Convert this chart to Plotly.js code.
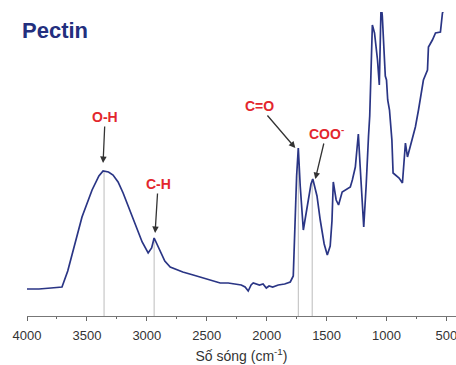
<!DOCTYPE html>
<html>
<head>
<meta charset="utf-8">
<script src="https://cdn.plot.ly/plotly-3.0.1.min.js"></script>
<style>html,body{margin:0;padding:0;background:#fff;}#chart{width:456px;height:365px;}</style>
</head>
<body>
<div id="chart"></div>
<script>
// Wavenumber (cm^-1) and absorbance-like signal (arbitrary units)
var wavenumber = [4000, 3900, 3800, 3708, 3660, 3616, 3541, 3457, 3400, 3365, 3320, 3282, 3240, 3198, 3114, 3039, 2989, 2960, 2939, 2915, 2889, 2850, 2805, 2700, 2613, 2500, 2388, 2321, 2260, 2212, 2180, 2154, 2130, 2112, 2060, 2030, 2003, 1980, 1950, 1903, 1850, 1803, 1778, 1765, 1750, 1736, 1720, 1694, 1660, 1630, 1615, 1580, 1553, 1520, 1494, 1470, 1455, 1444, 1420, 1400, 1370, 1343, 1302, 1285, 1260, 1245, 1235, 1220, 1200, 1190, 1170, 1160, 1150, 1140, 1118, 1100, 1075, 1060, 1045, 1035, 1010, 1000, 990, 975, 955, 945, 920, 895, 867, 842, 825, 800, 759, 733, 692, 658, 650, 617, 591, 550, 533, 491];
var signal = [27, 27, 28, 29, 45, 66, 99, 126, 140, 145, 144, 141, 134, 123, 96, 74, 63, 68, 78, 72, 64, 55, 49, 44, 41, 37, 33, 33, 32, 31, 29, 25, 31, 33, 31, 32, 28, 30, 29, 31, 32, 34, 40, 90, 140, 168, 130, 86, 110, 132, 137, 120, 96, 72, 61, 70, 95, 134, 116, 111, 124, 126, 129, 136, 149, 169, 182, 150, 100, 89, 130, 160, 180, 200, 291, 283, 256, 231, 312, 300, 240, 236, 216, 206, 176, 143, 140, 138, 133, 173, 159, 170, 189, 206, 236, 246, 269, 276, 283, 284, 303, 315];

// Band markers
var bandLabels = ['O-H', 'C-H', 'C=O', 'COO<sup>-</sup>'];
var bandLineWn = [3357, 2939, 1736, 1620];
var bandLineTop = [145, 78, 168, 137];
var arrowTipWn = [3365, 2931, 1761, 1594];
var arrowTipVal = [153, 83, 168, 137];

var font = 'Liberation Sans, Arial, sans-serif';
var labelOffsets = [[2, -46], [3, -49], [-36, -42], [11, -46]];

var shapes = bandLineWn.map(function (w, i) {
  return {type: 'line', xref: 'x', yref: 'y', x0: w, x1: w, y0: 0, y1: bandLineTop[i],
          line: {color: '#bcbcbc', width: 1}, layer: 'below'};
});
var annotations = bandLabels.map(function (t, i) {
  return {x: arrowTipWn[i], y: arrowTipVal[i], xref: 'x', yref: 'y', text: t,
          showarrow: true, arrowhead: 2, arrowsize: 1, arrowwidth: 1.3, arrowcolor: '#333',
          ax: labelOffsets[i][0], ay: labelOffsets[i][1], standoff: 0,
          font: {family: font, size: 14, color: '#e3262d', weight: 'bold'}};
});
annotations.push({xref: 'paper', yref: 'paper', x: -0.016, y: 0.94, xanchor: 'left', yanchor: 'middle',
  text: '<b>Pectin</b>', showarrow: false, font: {family: font, size: 22, color: '#232f7e'}});

var trace = {x: wavenumber, y: signal, type: 'scatter', mode: 'lines',
  line: {color: '#2a3585', width: 1.7}, hoverinfo: 'skip'};

var layout = {
  width: 456, height: 365,
  margin: {l: 27, r: 0, t: 12, b: 49},
  paper_bgcolor: '#fff', plot_bgcolor: '#fff',
  showlegend: false,
  xaxis: {range: [4000, 420], tickvals: [4000, 3500, 3000, 2500, 2000, 1500, 1000, 500],
    ticks: 'outside', ticklen: 4, tickcolor: '#666', tickwidth: 1,
    minor: {tickvals: [3750, 3250, 2750, 2250, 1750, 1250, 750], ticks: 'outside', ticklen: 2, tickcolor: '#666'},
    showline: true, linecolor: '#777', linewidth: 1, showgrid: false, zeroline: false,
    ticklabeloverflow: 'allow', ticklabelstandoff: 3,
    tickfont: {family: font, size: 13, color: '#333'},
    title: {text: 'Số sóng (cm<sup>-1</sup>)', font: {family: font, size: 14, color: '#333'}, standoff: 9}},
  yaxis: {range: [0, 304], visible: false, showgrid: false, zeroline: false, fixedrange: true},
  shapes: shapes,
  annotations: annotations
};

Plotly.newPlot('chart', [trace], layout, {staticPlot: true, displayModeBar: false});
</script>
</body>
</html>
